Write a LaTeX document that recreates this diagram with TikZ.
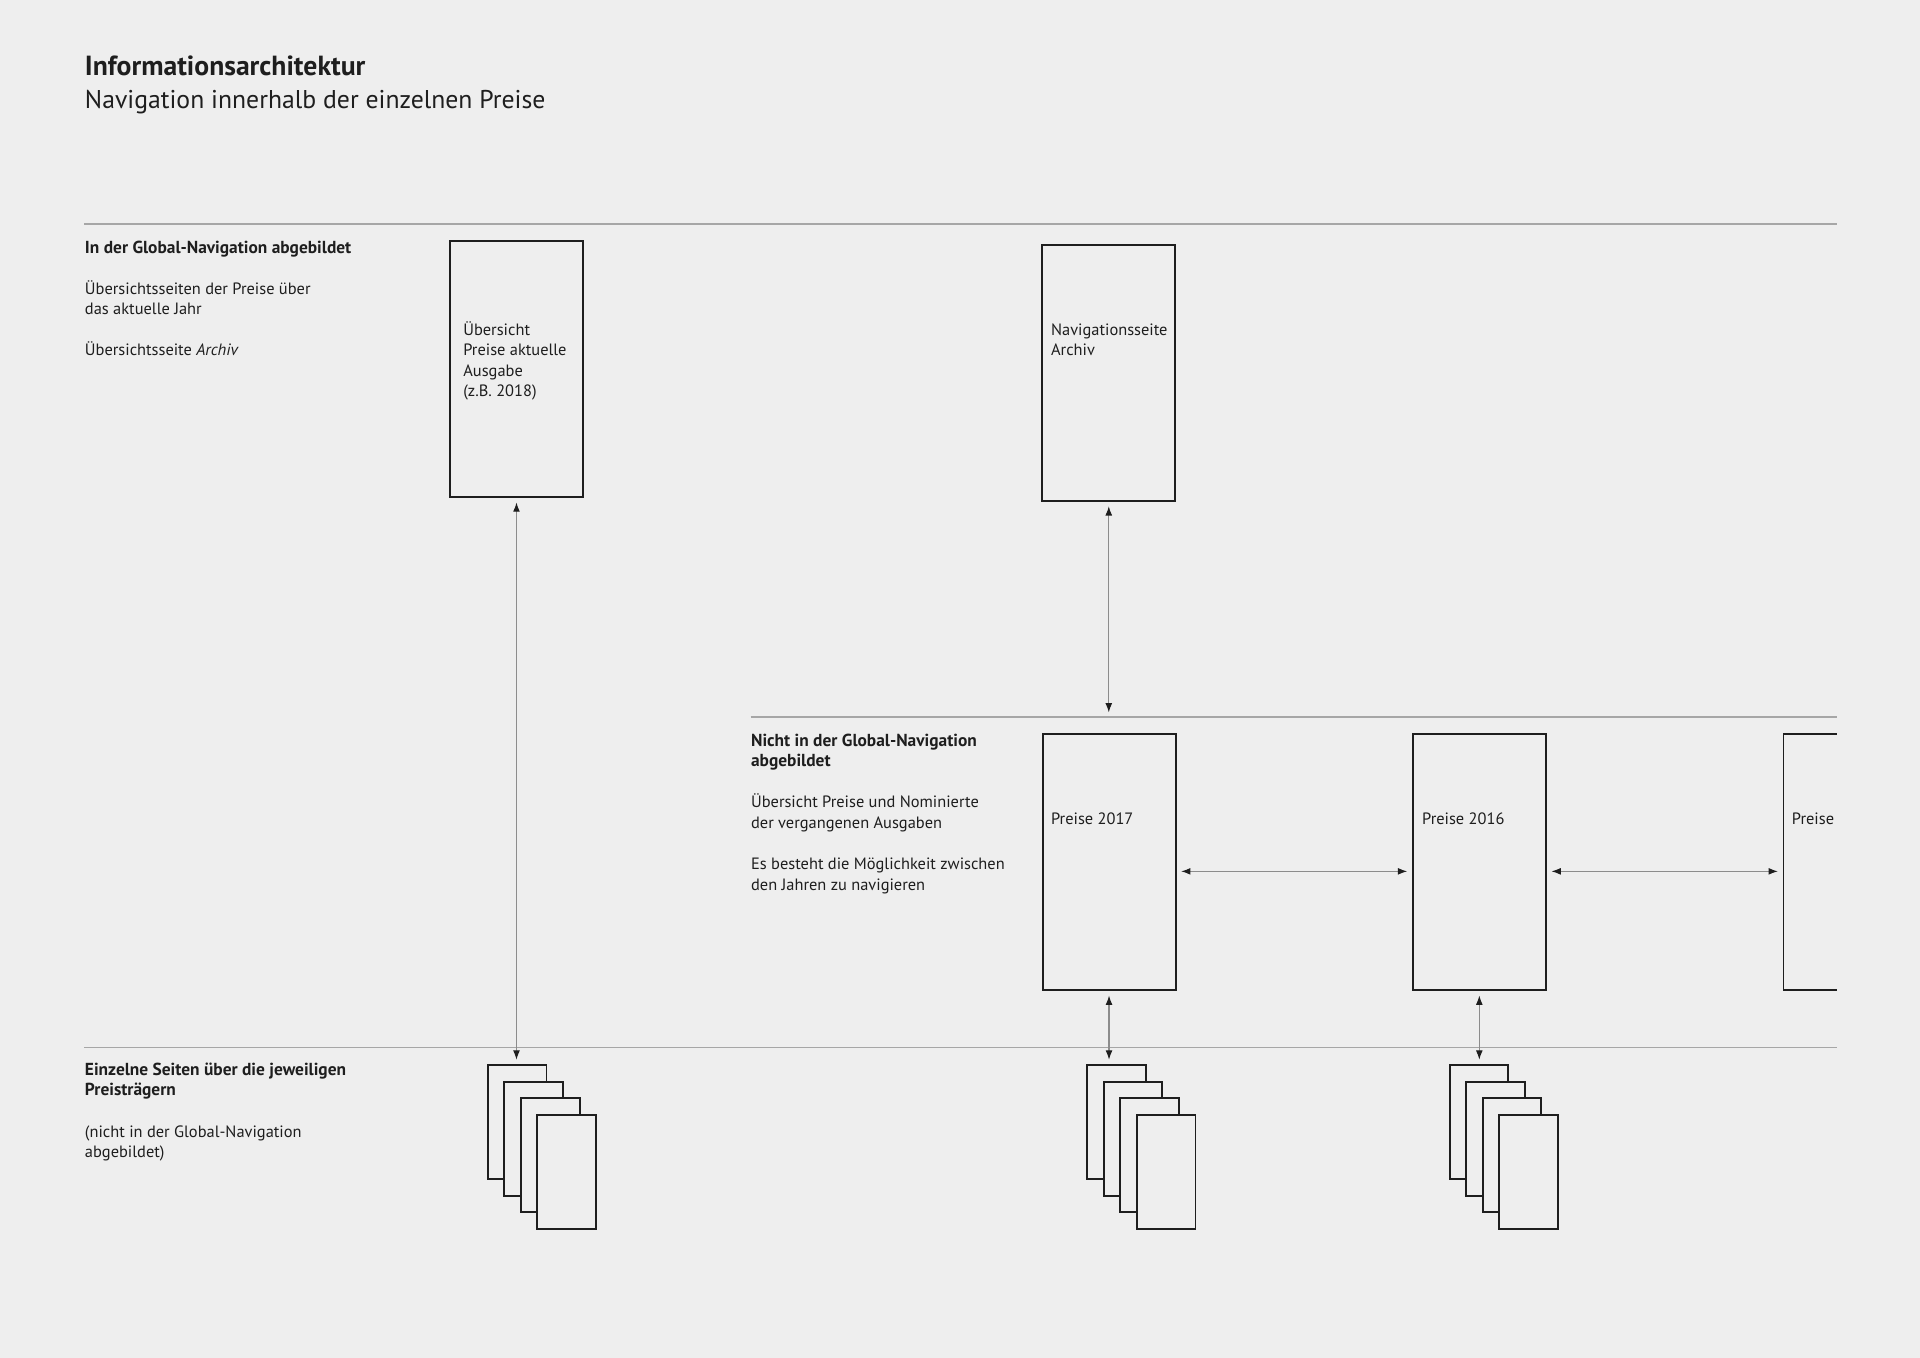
\documentclass[tikz,border=0pt]{standalone}
\usepackage{fontspec}
\setmainfont{PT Sans}
\usetikzlibrary{arrows.meta}

\definecolor{paper}{HTML}{EEEEEE}
\definecolor{ink}{HTML}{1E1E1E}

% bold first lines of the notes
\newcommand{\notehead}[1]{{\fontsize{7.1}{8.4}\selectfont\bfseries #1}}

\begin{document}
\begin{tikzpicture}[%
        x=0.5pt, y=-0.5pt,
        box/.style={
            % the shape:
            rectangle,
            minimum width=54.3pt,
            minimum height=104.3pt,
            % the rest:
            anchor=north west,
            inner sep=0pt,
            line width=0.8pt,
            draw=ink,
            fill=paper,
        },
        page/.style={
            % the shape:
            rectangle,
            minimum width=24pt,
            minimum height=46.5pt,
            % the rest:
            anchor=north west,
            inner sep=0pt,
            line width=0.8pt,
            draw=ink,
            fill=paper,
        },
        title/.style={
            anchor=base west,
            inner sep=0pt,
            text=ink,
        },
        note/.style={
            % base is the last line
            anchor=base west,
            align=left,
            inner sep=0pt,
            text=ink,
            font=\fontsize{6.7}{8.4}\selectfont,
        },
        rule/.style={line width=0.5pt, draw=black!35},
        link/.style={
            <->,
            line width=0.45pt,
            draw=black!45,
            shorten <=1.9pt,
            shorten >=1.9pt,
        },
        >={Latex[length=3.8pt, width=2.8pt, color=ink]},
    ]

    % paper
    \fill[paper] (0,0) rectangle (1568,1109);
    \useasboundingbox (0,0) rectangle (1568,1109);

    % heading
    \node[title, font=\fontsize{11.3}{13}\selectfont\bfseries] (head) at (69,62) {Informationsarchitektur};
    \node[title, font=\fontsize{10.5}{13}\selectfont] (subhead) at (69,89) {Navigation innerhalb der einzelnen Preise};

    % rules between the levels
    \coordinate (sepTop) at (69,183);
    \coordinate (sepMid) at (613,585.6);
    \coordinate (sepLow) at (69,855.3);
    \draw[rule] (sepTop) -- (sepTop -| 1500,0);
    \draw[rule] (sepMid) -- (sepMid -| 1500,0);
    \draw[rule] (sepLow) -- (sepLow -| 1500,0);

    % notes on the left
    \node[note] (noteTop) at (69,290.7) {\notehead{In der Global-Navigation abgebildet}\\[8.4pt]
        Übersichtsseiten der Preise über\\das aktuelle Jahr\\[8.4pt]
        Übersichtsseite \textit{Archiv}};
    \node[note] (noteMid) at (613,727) {\notehead{Nicht in der Global-Navigation}\\\notehead{abgebildet}\\[8.4pt]
        Übersicht Preise und Nominierte\\der vergangenen Ausgaben\\[8.4pt]
        Es besteht die Möglichkeit zwischen\\den Jahren zu navigieren};
    \node[note] (noteLow) at (69,945.4) {\notehead{Einzelne Seiten über die jeweiligen}\\\notehead{Preisträgern}\\[8.4pt]
        (nicht in der Global-Navigation\\abgebildet)};

    % pages
    \node[box] (current) at (366.7,196.3) {};
    \node[note] (currentText) at (378,324) {Übersicht\\Preise aktuelle\\Ausgabe\\(z.B. 2018)};
    \node[box] (archive) at (850.4,199.4) {};
    \node[note] (archiveText) at (858,290.5) {Navigationsseite\\Archiv};
    \node[box] (year17) at (850.6,599) {};
    \node[note] (year17Text) at (858,673.7) {Preise 2017};
    \node[box] (year16) at (1153,599) {};
    \node[note] (year16Text) at (1161,673.7) {Preise 2016};
    \begin{scope}
        \clip (1440,590) rectangle (1500,820);
        \node[box] (year15) at (1455.7,599) {};
        \node[note] (year15Text) at (1463,673.7) {Preise};
    \end{scope}

    % stacks of single pages
    \foreach \stack/\x in {winA/397.5, winB/887, winC/1183}
        \foreach \i in {1,...,4}
            \node[page] (\stack\i) at ({\x+13.5*(\i-1)},{869.2+13.5*(\i-1)}) {};

    % links
    \draw[link] (current.south) -- (current.south |- winA1.north);
    \draw[link] (archive.south) -- (archive.south |- sepMid);
    \draw[link] (year17.south) -- (year17.south |- winB1.north);
    \draw[link] (year16.south) -- (year16.south |- winC1.north);
    \draw[link] ([yshift=-3.75pt]year17.east) -- ([yshift=-3.75pt]year16.west);
    \draw[link] ([yshift=-3.75pt]year16.east) -- ([yshift=-3.75pt]year15.west);

\end{tikzpicture}
\end{document}
